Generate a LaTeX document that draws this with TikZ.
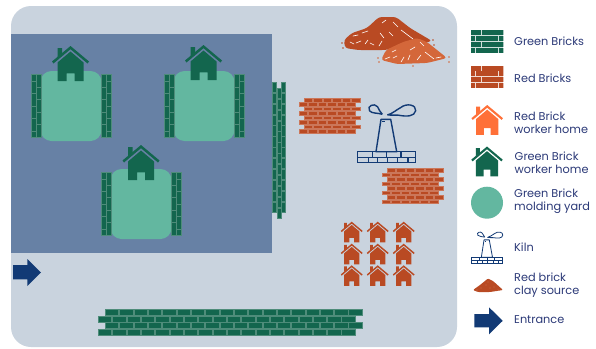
\documentclass[tikz,border=0pt]{standalone}
\usepackage{fontspec}
\setmainfont{Poppins}
\usepackage{tikz}
\usetikzlibrary{positioning}
\definecolor{panel}{HTML}{C9D3DE}
\definecolor{zone}{HTML}{6781A5}
\definecolor{yard}{HTML}{63B7A0}
\definecolor{greenbrick}{HTML}{13664E}
\definecolor{redbrick}{HTML}{B94A23}
\definecolor{clay}{HTML}{D4673A}
\definecolor{orangehome}{HTML}{FF7038}
\definecolor{navy}{HTML}{123A75}
\definecolor{legendtext}{HTML}{2C3A78}
\tikzset{
  gbrick/.style={fill=greenbrick,draw=greenbrick!75!white,line width=.25pt},
  rbrick/.style={fill=redbrick,draw=redbrick!75!white,line width=.25pt},
  speck/.style={white,line width=.6pt,line cap=round},
  legendlabel/.style={anchor=west,align=left,text=legendtext,font=\fontsize{11.3}{13}\selectfont,inner sep=0pt},
  pics/cottage/.style={code={
    \fill[#1] (0,0) -- (18.5,15.5) -- (17,17.5) -- (0,3.2) -- (-17,17.5) -- (-18.5,15.5) -- cycle;
    \fill[#1] (0,5.5) -- (13,16.5) -- (13,35) -- (4,35) -- (4,27.3) -- (-4,27.3) -- (-4,35) -- (-13,35) -- (-13,16.5) -- cycle;
    \fill[#1] (-13,2) -- (-8.3,2) -- (-8.3,7.5) -- (-13,11.5) -- cycle;
  }},
  pics/sidewall/.style={code={
    \foreach \y/\h in {0/6.3,6.3/12.5,18.8/12.5,31.3/12.5,43.8/12.5,56.3/6.3}
      \path[gbrick] (-10.3,\y) rectangle +(5,\h);
    \foreach \y in {0,12.5,25,37.5,50}
      \path[gbrick] (-4.8,\y) rectangle +(4.8,12.6);
  }},
  pics/kiln/.style={code={
    \draw[navy,line width=#1,line join=round] (-5.5,-43.4) -- (4.2,-43.4) -- (10.2,-11) -- (-10.5,-11) -- cycle;
    \draw[navy,line width=#1] (-29.2,-11) rectangle (29.2,0) (-29.2,-5.5) -- (29.2,-5.5);
    \foreach \x in {-14.2,.2,14.5} \draw[navy,line width=#1] (\x,-11) -- (\x,-5.5);
    \foreach \x in {-18.2,-8.8,.8,11.2,21.5} \draw[navy,line width=#1] (\x,-5.5) -- (\x,0);
    \draw[navy,line width=#1] (-4.2,-48.4) .. controls (-9,-50) and (-15,-49) .. (-17,-52) .. controls (-20,-57) and (-12,-60) .. (-9,-56) .. controls (-8,-53) and (-6,-51) .. (-4.2,-48.4);
    \draw[navy,line width=#1] (.8,-47.7) .. controls (6,-49) and (10,-53) .. (14,-55) .. controls (20,-60) and (30,-58) .. (29.2,-52) .. controls (28,-46) and (20,-46) .. (12,-47.5) -- (.8,-47.7);
    \fill[navy] (-4.5,-42) rectangle (-1.5,-41.3);
  }}
}
\newcommand\brickrows[8]{% style, x odd rows, x even rows, top, rows, bricks, pitch x, pitch y
  \foreach \r in {1,...,#5}{
    \pgfmathsetmacro\xs{mod(\r,2)==1 ? #2 : #3}
    \foreach \b in {1,...,#6}
      \path[#1] ({\xs+(\b-1)*#7},{#4+(\r-1)*#8}) rectangle +({#7-.9},{#8-.8});
  }}
\begin{document}
\begin{tikzpicture}[x=1pt,y=-1pt]
  \useasboundingbox (0,0) rectangle (596,348);
  \fill[white] (0,0) rectangle (596,348);
  \fill[panel,rounded corners=20pt] (11,6) rectangle (457,347);
  \fill[zone] (11,34) rectangle (272,253);

  % molding yards with their walls and homes
  \foreach \x/\yt/\hx/\hy in {71/71/70.5/46,204/71/203.5/45,141/169/141/145}{
    \fill[yard,rounded corners=11pt] (\x-30.5,\yt) rectangle (\x+30.5,\yt+70);
    \pic at (\x-30,\yt+3.5) {sidewall};
    \pic[xscale=-1] at (\x+30,\yt+3.5) {sidewall};
    \pic at (\hx,\hy) {cottage=greenbrick};
  }

  % long walls
  \foreach \x/\yt/\n in {271.7/82/12,276.8/88/12,281.3/82/12}
    \foreach \b in {1,...,\n}
      \path[gbrick] (\x,{\yt+(\b-1)*10.9}) rectangle +(4.3,10.2);
  \brickrows{gbrick}{105}{98}{309.5}{4}{18}{14.33}{6.5}
  \brickrows{rbrick}{304}{299}{98}{8}{6}{9.45}{4.45}
  \brickrows{rbrick}{387}{382}{168.5}{8}{6}{9.45}{4.45}

  % clay piles, kiln, red homes
  \fill[redbrick,rounded corners=3pt] (344,40) -- (352,33) -- (367,28) -- (379,17) -- (396,17) -- (410,28) -- (432,41) -- (420,44) -- (385,50) -- (358,50) -- (345,48) -- cycle;
  \foreach \a/\b/\c/\d in {350/42/354/44,356/43/361/41,365/44/368/40,370/43/374/45,379/46/382/41,353/36/358/35,362/33/368/31,380/33/384/38,382/23/386/20,393/22/398/27,401/30/413/39,389/32/393/36}
    \draw[speck] (\a,\b) -- (\c,\d);
  \fill[clay,rounded corners=3pt] (381,60) -- (386,50) -- (403,42) -- (417,38) -- (427,42) -- (447,58) -- (427,63) -- (397,64) -- cycle;
  \foreach \a/\b/\c/\d in {385/59/390/57,393/58/397/56,401/62/404/57,408/60/410/55,417/60/421/55,425/52/434/59,410/50/415/47,420/42/424/46,392/52/396/50,436/58/441/57}
    \draw[speck] (\a,\b) -- (\c,\d);
  \foreach \a/\b/\c in {342/43/redbrick,343/48/redbrick,433/40/redbrick,434/45/redbrick,378/58/clay,379/62/clay,449/57/clay,449/62/clay,413/66/clay}
    \fill[\c] (\a,\b) circle (.8);
  \pic at (386.5,162.7) {kiln=1.4pt};
  \foreach \x in {351.7,377.7,403.7}
    \foreach \y in {221.7,243.7,265.3}
      \pic[scale=.59] at (\x,\y) {cottage=redbrick};

  % entrance
  \fill[navy] (13,265) -- (27.3,265) -- (27.3,259) -- (41,272.5) -- (27.3,286) -- (27.3,279.3) -- (13,279.3) -- cycle;

  % legend
  \begin{scope}
    \clip (471,30) rectangle (503.3,53.3);
    \fill[greenbrick!20!white] (471,30) rectangle (503.3,53.3);
    \brickrows{fill=greenbrick}{471}{465}{30}{4}{4}{11.2}{5.9}
  \end{scope}
  \begin{scope}
    \clip (471,65.7) rectangle (503.3,88.3);
    \fill[redbrick!20!white] (471,65.7) rectangle (503.3,88.3);
    \brickrows{fill=redbrick}{471}{465}{65.7}{4}{4}{11.2}{5.7}
  \end{scope}
  \pic[scale=.85] at (487.2,105) {cottage=orangehome};
  \pic[scale=.85] at (487,146.5) {cottage=greenbrick};
  \fill[yard] (487,202.7) circle (16);
  \pic[scale=.54] at (487,263.3) {kiln=.8pt};
  \fill[redbrick,rounded corners=1pt] (473,290) -- (480,285) -- (488,278.5) -- (493,281) -- (503,290) -- (490,292) -- (478,292) -- cycle;
  \foreach \a/\b in {481/288,486/285,490/288,494/287,488/282,477/290,498/290}
    \fill[clay!60!white] (\a,\b) circle (.4);
  \fill[navy] (474.3,314) -- (489,314) -- (489,307.3) -- (502.7,320.8) -- (489,334.3) -- (489,327.3) -- (474.3,327.3) -- cycle;

  \node[legendlabel] (lgreen) at (514,41) {Green Bricks};
  \node[legendlabel] (lred) at (514,78) {Red Bricks};
  \node[legendlabel] (lredhome) at (514,122.5) {Red Brick\\worker home};
  \node[legendlabel] (lgreenhome) at (514.5,162.5) {Green Brick\\worker home};
  \node[legendlabel] (lyard) at (514,201.5) {Green Brick\\molding yard};
  \node[legendlabel] (lkiln) at (514,247) {Kiln};
  \node[legendlabel] (lclay) at (514,285) {Red brick\\clay source};
  \node[legendlabel] (lentrance) at (514,320) {Entrance};
\end{tikzpicture}
\end{document}
